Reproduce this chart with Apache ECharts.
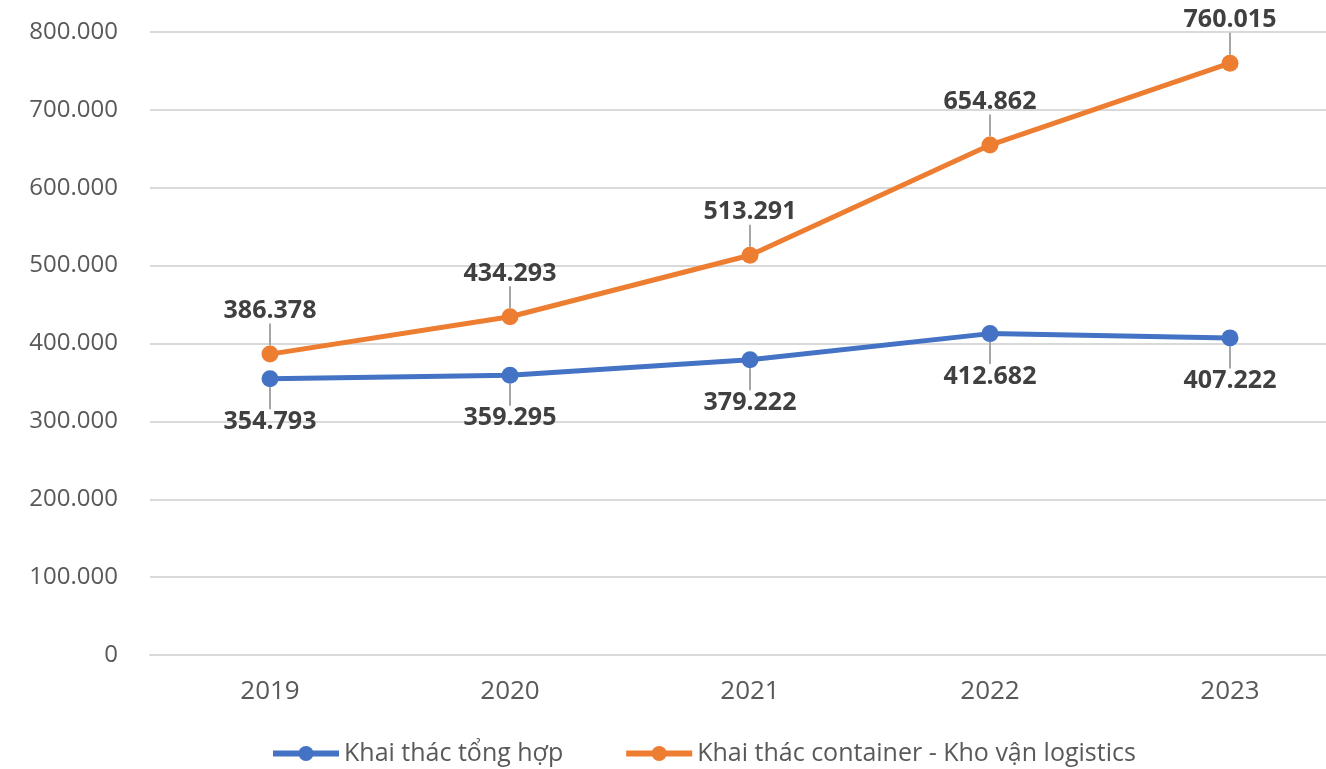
<!DOCTYPE html>
<html>
<head>
<meta charset="utf-8">
<script src="https://cdn.jsdelivr.net/npm/echarts@6/dist/echarts.min.js"></script>
<style>
html,body{margin:0;padding:0;background:#fff;}
#c{width:1326px;height:769px;}
</style>
</head>
<body>
<div id="c"></div>
<script>
const categories = ['2019', '2020', '2021', '2022', '2023'];
const seriesNames = ['Khai thác tổng hợp', 'Khai thác container - Kho vận logistics'];
const tongHop = [354793, 359295, 379222, 412682, 407222];
const container = [386378, 434293, 513291, 654862, 760015];
const yTicks = { min: 0, max: 800000, interval: 100000 };

function fmt(v) {
  return String(Math.round(v)).replace(/\B(?=(\d{3})+(?!\d))/g, '.');
}

const chart = echarts.init(document.getElementById('c'));
const labelFont = { fontFamily: 'Open Sans', fontWeight: 'bold', fontSize: 25, color: '#404040' };

chart.setOption({
  animation: false,
  backgroundColor: '#ffffff',
  grid: { left: 150, width: 1200, top: 32, bottom: 114, outerBoundsMode: 'none', containLabel: false },
  legend: {
    left: 270, top: 741, padding: 0,
    itemWidth: 66, itemHeight: 19, itemGap: 60,
    lineStyle: { width: 6 },
    textStyle: { fontFamily: 'Open Sans', fontSize: 25, color: '#595959' },
    data: seriesNames
  },
  xAxis: {
    type: 'category',
    data: categories,
    boundaryGap: true,
    axisLine: { lineStyle: { color: '#d9d9d9', width: 2 } },
    axisTick: { show: false },
    axisLabel: { margin: 24, fontFamily: 'Open Sans', fontSize: 26, color: '#595959' }
  },
  yAxis: {
    type: 'value',
    min: yTicks.min, max: yTicks.max, interval: yTicks.interval,
    axisLine: { show: false },
    axisTick: { show: false },
    splitLine: { lineStyle: { color: '#d9d9d9', width: 2 } },
    axisLabel: { margin: 32, fontFamily: 'Open Sans', fontSize: 24, color: '#595959', formatter: fmt }
  },
  series: [
    {
      name: seriesNames[0], type: 'line', data: tongHop,
      color: '#4472C4',
      lineStyle: { width: 5, color: '#4472C4' },
      symbol: 'circle', symbolSize: 17,
      itemStyle: { color: '#4472C4' },
      label: Object.assign({ show: true, position: 'inside', formatter: p => fmt(p.value) }, labelFont),
      labelLayout: { dy: 43, dx: 0 },
      labelLine: { show: true, lineStyle: { color: '#a6a6a6', width: 2 } },
      z: 3
    },
    {
      name: seriesNames[1], type: 'line', data: container,
      color: '#ED7D31',
      lineStyle: { width: 5, color: '#ED7D31' },
      symbol: 'circle', symbolSize: 17,
      itemStyle: { color: '#ED7D31' },
      label: Object.assign({ show: true, position: 'inside', formatter: p => fmt(p.value) }, labelFont),
      labelLayout: { dy: -43, dx: 0 },
      labelLine: { show: true, lineStyle: { color: '#a6a6a6', width: 2 } },
      z: 3
    }
  ]
});
</script>
</body>
</html>
